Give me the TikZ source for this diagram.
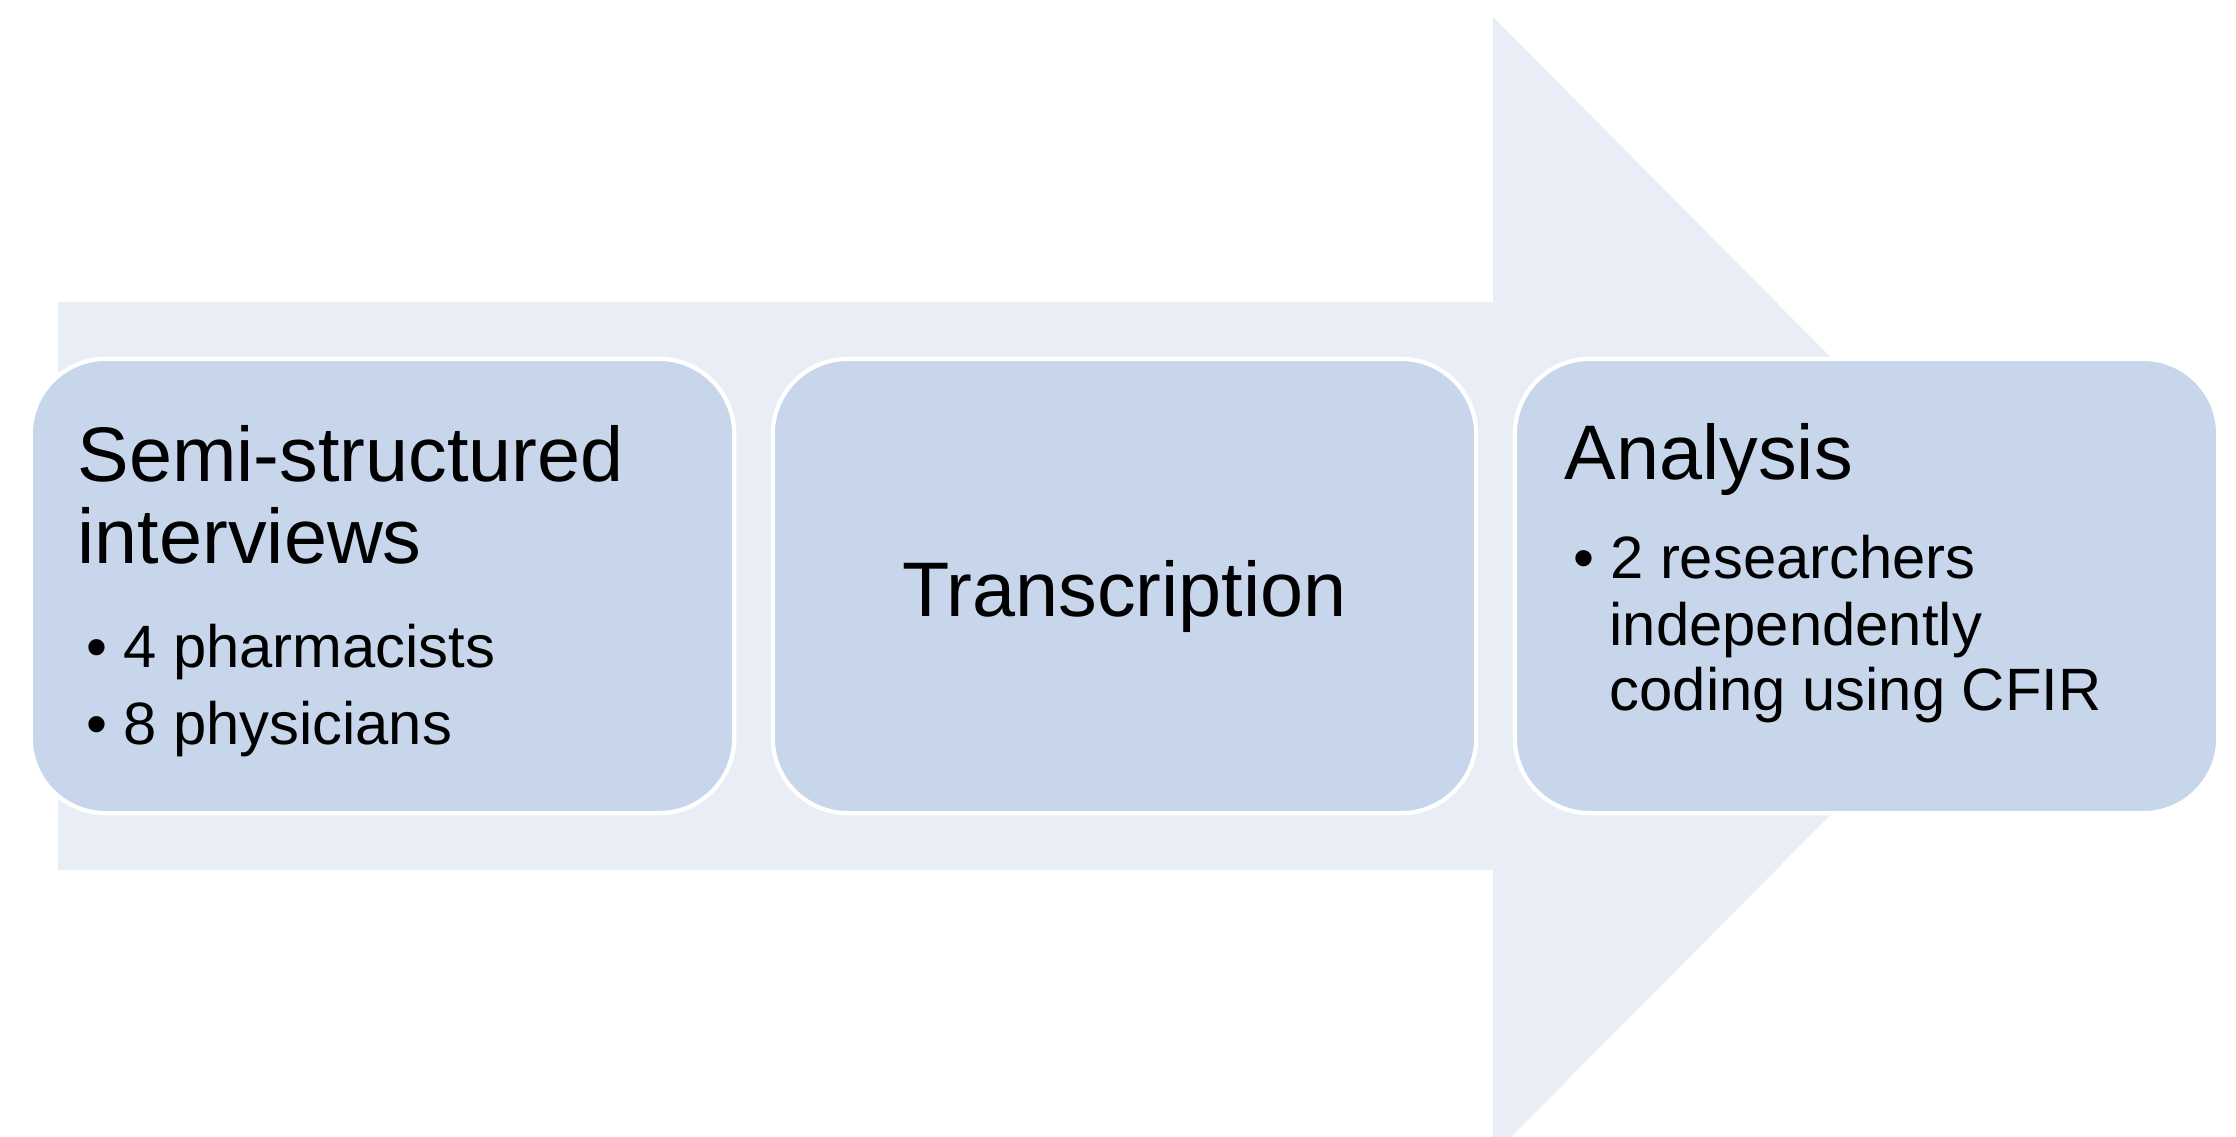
\documentclass[tikz,border=0pt]{standalone}
\usepackage{fontspec}
\setmainfont{Liberation Sans}
\usepackage{tikz}
\definecolor{shaftblue}{RGB}{233,238,246}
\definecolor{stageblue}{RGB}{200,214,235}
\newcommand{\pt}{\makebox[0.365cm][l]{\textbullet}}

\begin{document}
\begin{tikzpicture}[x=0.01cm,y=-0.01cm,
  stage/.style={draw=white,line width=1.2pt,fill=stageblue,
    rounded corners=0.75cm,minimum width=7.03cm,minimum height=4.54cm,inner sep=0pt},
  headline/.style={anchor=base west,inner sep=0pt,font=\fontsize{22}{26}\selectfont},
  itemline/.style={anchor=base west,inner sep=0pt,font=\fontsize{17}{20}\selectfont}]
  \useasboundingbox (0,0) rectangle (2236,1136);

  % Background block arrow, its head runs past the lower edge.
  \begin{scope}
    \clip (0,0) rectangle (2236,1136);
    \fill[shaftblue] (58,302) -- (1493,302) -- (1493,17) -- (2058,586)
      -- (1493,1155) -- (1493,870) -- (58,870) -- cycle;
  \end{scope}

  \foreach \name/\cx in {interviews/382.5,transcription/1124.5,analysis/1866.5}{
    \node[stage] (\name) at (\cx,586) {};
  }

  % Stage 1
  \node[headline] (semi) at (77,481) {Semi-structured};
  \node[headline] (intv) at (77,563) {interviews};
  \node[itemline] (pharm) at (86,667) {\pt 4 pharmacists};
  \node[itemline] (phys) at (86,744) {\pt 8 physicians};

  % Stage 2
  \node[headline,anchor=base] (transc) at (1124.5,616) {Transcription};

  % Stage 3
  \node[headline] (anal) at (1564,479) {Analysis};
  \node[itemline] (resA) at (1573,578) {\pt 2 researchers};
  \node[itemline] (resB) at (1609,645) {independently};
  \node[itemline] (resC) at (1609,710) {coding using CFIR};
\end{tikzpicture}
\end{document}
